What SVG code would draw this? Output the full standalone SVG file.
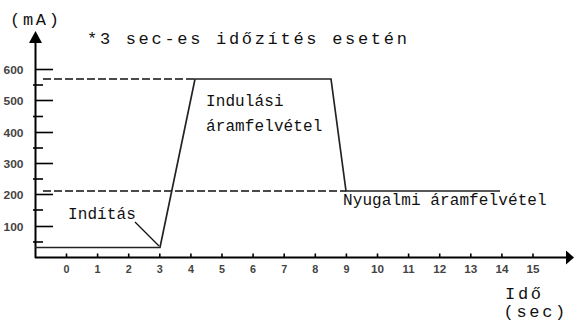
<svg xmlns="http://www.w3.org/2000/svg" width="574" height="334" viewBox="0 0 574 334">
<style>
.big{font-size:17px;letter-spacing:2.7px;fill:#111}
.sm{font-size:16px;letter-spacing:0.1px;fill:#111}
.yl{font-size:10px;fill:#444;text-anchor:end}
.xl{font-size:10px;fill:#444;text-anchor:middle}
.ax{stroke:#000;stroke-width:2;fill:none}
.tk{stroke:#000;stroke-width:1.6}
.dash{stroke:#111;stroke-width:1.6;stroke-dasharray:8 3;fill:none}
.curve{stroke:#222;stroke-width:1.7;fill:none;stroke-linejoin:miter}
</style>
<rect width="574" height="334" fill="#fff"/>
<g id="axes">
<line class="ax" x1="35.5" y1="42" x2="35.5" y2="258"/>
<polygon points="35.5,31 29,43 42,43" fill="#000"/>
<line class="ax" x1="35" y1="257.5" x2="567" y2="257.5"/>
<polygon points="574,257.5 566,250.5 566,264.5" fill="#000"/>
<g class="tk">
<line x1="35" y1="69.5" x2="53" y2="69.5"/>
<line x1="33" y1="85" x2="43" y2="85"/>
<line x1="35" y1="100.5" x2="53" y2="100.5"/>
<line x1="33" y1="116.5" x2="43" y2="116.5"/>
<line x1="35" y1="132.5" x2="53" y2="132.5"/>
<line x1="33" y1="148" x2="43" y2="148"/>
<line x1="35" y1="163.5" x2="53" y2="163.5"/>
<line x1="33" y1="179" x2="43" y2="179"/>
<line x1="35" y1="194.5" x2="53" y2="194.5"/>
<line x1="33" y1="210" x2="43" y2="210"/>
<line x1="35" y1="226.5" x2="53" y2="226.5"/>
<line x1="33" y1="242" x2="43" y2="242"/>
<line x1="66.5" y1="253.5" x2="66.5" y2="257"/>
<line x1="97.6" y1="253.5" x2="97.6" y2="257"/>
<line x1="128.7" y1="253.5" x2="128.7" y2="257"/>
<line x1="159.8" y1="253.5" x2="159.8" y2="257"/>
<line x1="190.9" y1="253.5" x2="190.9" y2="257"/>
<line x1="222" y1="253.5" x2="222" y2="257"/>
<line x1="253.1" y1="253.5" x2="253.1" y2="257"/>
<line x1="284.2" y1="253.5" x2="284.2" y2="257"/>
<line x1="315.3" y1="253.5" x2="315.3" y2="257"/>
<line x1="346.4" y1="253.5" x2="346.4" y2="257"/>
<line x1="377.5" y1="253.5" x2="377.5" y2="257"/>
<line x1="408.6" y1="253.5" x2="408.6" y2="257"/>
<line x1="439.7" y1="253.5" x2="439.7" y2="257"/>
<line x1="470.8" y1="253.5" x2="470.8" y2="257"/>
<line x1="501.9" y1="253.5" x2="501.9" y2="257"/>
<line x1="533" y1="253.5" x2="533" y2="257"/>
</g>
<g font-family="Liberation Sans, Arial, sans-serif" font-weight="bold">
<text class="yl" x="23.5" y="73.5" textLength="20" lengthAdjust="spacingAndGlyphs">600</text>
<text class="yl" x="23.5" y="104.5" textLength="20" lengthAdjust="spacingAndGlyphs">500</text>
<text class="yl" x="23.5" y="136.5" textLength="20" lengthAdjust="spacingAndGlyphs">400</text>
<text class="yl" x="23.5" y="167.5" textLength="20" lengthAdjust="spacingAndGlyphs">300</text>
<text class="yl" x="23.5" y="198.5" textLength="20" lengthAdjust="spacingAndGlyphs">200</text>
<text class="yl" x="23.5" y="230.5" textLength="20" lengthAdjust="spacingAndGlyphs">100</text>
<text class="xl" x="66.5" y="272.5" textLength="6" lengthAdjust="spacingAndGlyphs">0</text>
<text class="xl" x="97.6" y="272.5" textLength="6" lengthAdjust="spacingAndGlyphs">1</text>
<text class="xl" x="128.7" y="272.5" textLength="6" lengthAdjust="spacingAndGlyphs">2</text>
<text class="xl" x="159.8" y="272.5" textLength="6" lengthAdjust="spacingAndGlyphs">3</text>
<text class="xl" x="190.9" y="272.5" textLength="6" lengthAdjust="spacingAndGlyphs">4</text>
<text class="xl" x="222" y="272.5" textLength="6" lengthAdjust="spacingAndGlyphs">5</text>
<text class="xl" x="253.1" y="272.5" textLength="6" lengthAdjust="spacingAndGlyphs">6</text>
<text class="xl" x="284.2" y="272.5" textLength="6" lengthAdjust="spacingAndGlyphs">7</text>
<text class="xl" x="315.3" y="272.5" textLength="6" lengthAdjust="spacingAndGlyphs">8</text>
<text class="xl" x="346.4" y="272.5" textLength="6" lengthAdjust="spacingAndGlyphs">9</text>
<text class="xl" x="377.5" y="272.5" textLength="13" lengthAdjust="spacingAndGlyphs">10</text>
<text class="xl" x="408.6" y="272.5" textLength="12" lengthAdjust="spacingAndGlyphs">11</text>
<text class="xl" x="439.7" y="272.5" textLength="13" lengthAdjust="spacingAndGlyphs">12</text>
<text class="xl" x="470.8" y="272.5" textLength="13" lengthAdjust="spacingAndGlyphs">13</text>
<text class="xl" x="501.9" y="272.5" textLength="13" lengthAdjust="spacingAndGlyphs">14</text>
<text class="xl" x="533" y="272.5" textLength="13" lengthAdjust="spacingAndGlyphs">15</text>
</g>
</g>
<g id="connectors">
<line class="dash" x1="43" y1="79" x2="195" y2="79"/>
<line class="dash" x1="43" y1="191" x2="346" y2="191"/>
<polyline class="curve" points="35,247.5 160,247.5 195,79 331,79 346,191 500,191"/>
<line x1="135" y1="222" x2="159" y2="246" stroke="#111" stroke-width="1.3"/>
</g>
<g id="labels" font-family="Liberation Mono, DejaVu Sans Mono, monospace">
<text class="big" x="10" y="25">(mA)</text>
<text class="big" x="87" y="44">*3 sec-es időzítés esetén</text>
<text class="sm" x="206" y="106">Indulási</text>
<text class="sm" x="206" y="131">áramfelvétel</text>
<text class="sm" x="343" y="205">Nyugalmi áramfelvétel</text>
<text class="sm" x="68" y="219">Indítás</text>
<text class="big" x="505" y="299">Idő</text>
<text class="big" x="503.5" y="317">(sec)</text>
</g>
</svg>
